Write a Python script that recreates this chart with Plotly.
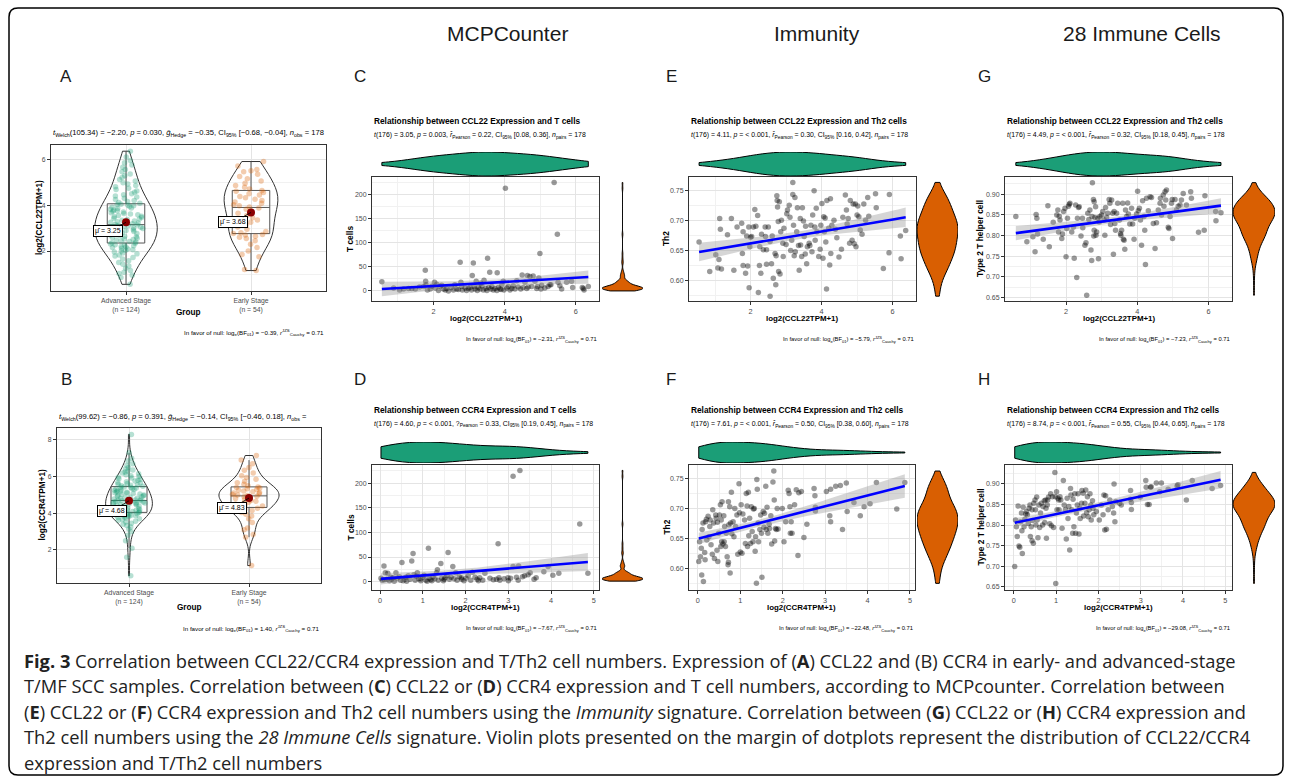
import numpy as np
import plotly.graph_objects as go

# ---------------- data ----------------
group_labels = ["Advanced Stage<br>(n = 124)", "Early Stage<br>(n = 54)"]

A_advanced = [0.55, 0.85, 0.95, 1.02, 1.08, 1.15, 1.25, 1.35, 1.42, 1.5, 1.58, 1.65, 1.72, 1.78, 1.83,
              1.88, 1.92, 1.96, 2.0, 2.03, 2.06, 2.09, 2.12, 2.15, 2.18, 2.2, 2.23, 2.26, 2.28, 2.31, 2.34,
              2.36, 2.39, 2.42, 2.45, 2.48, 2.5, 2.53, 2.56, 2.59, 2.62, 2.65, 2.68, 2.7, 2.73, 2.76,
              2.79, 2.82, 2.85, 2.88, 2.9, 2.93, 2.95, 2.98, 3.0, 3.02, 3.04, 3.06, 3.08, 3.1, 3.12, 3.14,
              3.16, 3.19, 3.22, 3.25, 3.28, 3.31, 3.34, 3.37, 3.4, 3.43, 3.46, 3.49, 3.52, 3.55, 3.58,
              3.61, 3.64, 3.67, 3.7, 3.73, 3.76, 3.79, 3.82, 3.85, 3.88, 3.91, 3.94, 3.97, 4.0, 4.02, 4.04,
              4.08, 4.12, 4.16, 4.2, 4.25, 4.3, 4.35, 4.4, 4.45, 4.5, 4.56, 4.62, 4.68, 4.74, 4.8,
              4.86, 4.92, 4.98, 5.05, 5.12, 5.2, 5.28, 5.36, 5.45, 5.55, 5.65, 5.75, 5.85, 5.95, 6.1, 6.35]
A_early = [1.15, 1.2, 1.75, 1.85, 2.0, 2.15, 2.3, 2.45, 2.55, 2.6, 2.65, 2.7, 2.72,
           2.76, 2.8, 2.85, 2.95, 3.05, 3.15, 3.25, 3.35, 3.45, 3.55, 3.65, 3.75, 3.82, 3.88,
           3.92, 3.97, 4.02, 4.08, 4.14, 4.2, 4.26, 4.32, 4.38, 4.44, 4.5, 4.55, 4.6, 4.64,
           4.7, 4.78, 4.86, 4.95, 5.05, 5.15, 5.25, 5.35, 5.45, 5.5, 5.55, 5.7, 5.9]
A_means = [3.25, 3.68]

B_advanced = [0.6, 1.6, 2.1, 2.5, 2.8, 3.0, 3.15, 3.25, 3.33, 3.4, 3.46, 3.52, 3.57, 3.62, 3.66,
              3.7, 3.74, 3.77, 3.8, 3.83, 3.86, 3.88, 3.9, 3.92, 3.94, 3.96, 3.98, 4.0, 4.01, 4.03, 4.04,
              4.06, 4.08, 4.1, 4.12, 4.14, 4.16, 4.18, 4.2, 4.23, 4.26, 4.28, 4.3, 4.33, 4.36, 4.38,
              4.4, 4.43, 4.46, 4.48, 4.5, 4.52, 4.54, 4.56, 4.58, 4.6, 4.62, 4.64, 4.65, 4.66, 4.68, 4.69,
              4.71, 4.73, 4.75, 4.78, 4.8, 4.82, 4.85, 4.88, 4.9, 4.92, 4.95, 4.98, 5.0, 5.02, 5.05,
              5.08, 5.1, 5.12, 5.15, 5.18, 5.2, 5.22, 5.25, 5.28, 5.3, 5.32, 5.35, 5.38, 5.4, 5.42, 5.44,
              5.47, 5.5, 5.53, 5.56, 5.59, 5.62, 5.65, 5.68, 5.72, 5.76, 5.8, 5.84, 5.88, 5.92, 5.96,
              6.0, 6.05, 6.1, 6.15, 6.2, 6.25, 6.3, 6.36, 6.42, 6.5, 6.6, 6.7, 6.85, 7.0, 7.3, 8.3]
B_early = [1.15, 2.7, 2.85, 3.1, 3.2, 3.5, 3.7, 3.85, 3.95, 4.05, 4.15, 4.22, 4.28,
           4.32, 4.36, 4.4, 4.45, 4.5, 4.55, 4.6, 4.65, 4.7, 4.75, 4.8, 4.85, 4.9, 4.93,
           4.97, 5.0, 5.03, 5.07, 5.1, 5.14, 5.18, 5.22, 5.26, 5.3, 5.34, 5.38, 5.41, 5.44,
           5.5, 5.58, 5.66, 5.75, 5.85, 5.95, 6.05, 6.2, 6.35, 6.5, 6.7, 6.9, 7.15]
B_means = [4.68, 4.83]

C_x = [0.55, 0.88, 1.05, 1.16, 1.30, 1.39, 1.49, 1.61, 1.72, 1.77,
       1.78, 1.79, 1.83, 1.91, 2.03, 2.05, 2.09, 2.14, 2.19, 2.23,
       2.28, 2.33, 2.37, 2.42, 2.50, 2.56, 2.65, 2.75, 2.77, 2.79,
       2.81, 2.89, 2.93, 2.98, 3.03, 3.07, 3.09, 3.12, 3.14, 3.17,
       3.20, 3.23, 3.26, 3.31, 3.36, 3.40, 3.42, 3.47, 3.50, 3.52,
       3.55, 3.58, 3.61, 3.64, 3.68, 3.73, 3.78, 3.79, 3.82, 3.87,
       3.92, 3.96, 3.98, 4.02, 4.06, 4.10, 4.15, 4.20, 4.24, 4.29,
       4.34, 4.38, 4.49, 4.52, 4.57, 4.62, 4.64, 4.66, 4.71, 4.76,
       4.80, 4.85, 4.90, 4.92, 4.96, 4.99, 5.02, 5.04, 5.13, 5.22,
       5.27, 5.30, 5.39, 5.48, 5.50, 5.55, 5.74, 5.88, 5.91, 6.21,
       6.23, 6.35, 2.60, 3.33, 3.90, 4.45, 5.60, 6.18, 1.95, 2.70]
C_y = [18, 5, 1, 3, 4, 4, 3, 7, 8, 42,
       19, 12, 1, 3, 17, 5, 13, 0, 8, 11,
       3, 1, 4, -1, 6, 1, 3, 59, 17, 8,
       1, 5, 0, 4, 6, 1, 31, 57, 8, 3,
       19, 0, 6, 3, 10, 1, 21, 4, 0, 67,
       6, 38, 3, 8, 1, 4, 0, 37, 6, 3,
       12, 19, 1, 213, 5, 8, 1, 4, 10, 3,
       20, 7, 32, 6, 17, 4, 31, 7, 29, 8,
       30, 19, 4, 8, 26, 77, 3, 11, 5, 8,
       12, 12, 225, 117, 17, 10, 17, 19, 6, 4,
       1, 8, 12, 15, 2, 3, 3, 6, 9, 2]

D_x = [0.02, 0.05, 0.09, 0.12, 0.16, 0.18, 0.22, 0.27, 0.33, 0.37,
       0.40, 0.45, 0.48, 0.51, 0.54, 0.58, 0.62, 0.66, 0.70, 0.74,
       0.77, 0.79, 0.82, 0.87, 0.90, 0.95, 1.00, 1.03, 1.07, 1.13,
       1.15, 1.21, 1.24, 1.28, 1.32, 1.34, 1.36, 1.42, 1.44, 1.48,
       1.52, 1.56, 1.59, 1.62, 1.66, 1.70, 1.73, 1.77, 1.80, 1.85,
       1.91, 1.96, 2.01, 2.06, 2.12, 2.16, 2.22, 2.27, 2.33, 2.40,
       2.45, 2.57, 2.72, 2.76, 2.78, 2.80, 2.99, 3.05, 3.11, 3.11,
       3.19, 3.23, 3.24, 3.27, 3.33, 3.38, 3.46, 3.51, 3.65, 3.83,
       3.93, 4.04, 4.18, 4.67, 4.86, 0.30, 0.60, 0.95, 1.10, 1.50,
       1.90, 2.30, 2.65, 2.90, 3.60, 3.00, 0.10, 0.25, 0.85, 1.18]
D_y = [7, 3, 32, 18, 5, 17, 2, 5, 1, 18,
       7, 10, 3, 39, 2, 5, 1, 12, 5, 42,
       57, 14, 3, 18, 6, 2, 9, 13, 3, 68,
       7, 2, 10, 6, 18, 24, 3, 37, 7, 2,
       8, 13, 59, 5, 9, 31, 6, 18, 3, 10,
       5, 2, 7, 12, 3, 19, 9, 5, 8, 3,
       17, 7, 5, 77, 8, 3, 8, 7, 31, 214,
       9, 3, 32, 226, 10, 12, 14, 18, 8, 20,
       31, 13, 17, 117, 17, 8, 9, 6, 1, 5,
       8, 2, 4, 6, 5, 2, 4, 9, 11, 4]

E_x = [0.55, 0.85, 1.02, 1.08, 1.13, 1.15, 1.18, 1.11, 1.35, 1.46,
       1.53, 1.62, 1.75, 1.79, 1.77, 1.79, 1.86, 1.89, 1.92, 1.95,
       1.96, 1.98, 2.03, 2.08, 2.12, 2.20, 2.22, 2.25, 2.26, 2.29,
       2.31, 2.36, 2.41, 2.42, 2.45, 2.45, 2.50, 2.55, 2.59, 2.61,
       2.64, 2.69, 2.71, 2.72, 2.74, 2.75, 2.76, 2.78, 2.79, 2.81,
       2.83, 2.85, 2.91, 2.92, 2.94, 3.02, 3.04, 3.09, 3.11, 3.16,
       3.19, 3.19, 3.21, 3.23, 3.25, 3.26, 3.30, 3.32, 3.35, 3.37,
       3.40, 3.41, 3.44, 3.46, 3.49, 3.51, 3.54, 3.58, 3.60, 3.65,
       3.67, 3.70, 3.73, 3.75, 3.79, 3.81, 3.82, 3.87, 3.92, 3.96,
       3.98, 4.01, 4.04, 4.06, 4.08, 4.10, 4.12, 4.14, 4.15, 4.20,
       4.23, 4.25, 4.26, 4.29, 4.39, 4.43, 4.49, 4.56, 4.67, 4.70,
       4.72, 4.75, 4.79, 4.81, 4.86, 4.89, 4.92, 4.95, 4.97, 5.02,
       5.00, 5.05, 5.09, 5.14, 5.19, 5.24, 5.30, 5.33, 5.52, 5.54,
       5.74, 5.90, 5.91, 6.22, 6.24, 6.37,
       2.15, 2.55, 2.87, 3.13, 3.55, 3.85, 4.35, 4.60, 2.00, 3.00]
E_y = [0.664, 0.615, 0.643, 0.621, 0.703, 0.685, 0.619, 0.635, 0.676, 0.703,
       0.617, 0.689, 0.695, 0.681, 0.645, 0.625, 0.612, 0.674, 0.624, 0.689,
       0.588, 0.656, 0.673, 0.689, 0.718, 0.708, 0.580, 0.625, 0.656, 0.612,
       0.677, 0.651, 0.689, 0.673, 0.651, 0.627, 0.689, 0.574, 0.628, 0.674,
       0.604, 0.645, 0.593, 0.641, 0.741, 0.733, 0.722, 0.698, 0.615, 0.731,
       0.611, 0.681, 0.662, 0.640, 0.687, 0.711, 0.717, 0.725, 0.705, 0.667,
       0.763, 0.743, 0.692, 0.641, 0.738, 0.648, 0.681, 0.721, 0.658, 0.617,
       0.703, 0.659, 0.640, 0.721, 0.699, 0.673, 0.644, 0.628, 0.656, 0.662,
       0.658, 0.692, 0.648, 0.709, 0.749, 0.689, 0.667, 0.681, 0.640, 0.652,
       0.692, 0.728, 0.637, 0.706, 0.681, 0.704, 0.664, 0.586, 0.733, 0.687,
       0.626, 0.736, 0.645, 0.692, 0.685, 0.671, 0.639, 0.652, 0.742, 0.717,
       0.694, 0.703, 0.662, 0.733, 0.667, 0.727, 0.661, 0.727, 0.656, 0.724,
       0.709, 0.706, 0.684, 0.677, 0.727, 0.700, 0.738, 0.707, 0.744, 0.721,
       0.620, 0.646, 0.743, 0.674, 0.636, 0.683,
       0.690, 0.665, 0.700, 0.650, 0.690, 0.720, 0.700, 0.705, 0.672, 0.660]

F_x = [0.02, 0.04, 0.06, 0.08, 0.09, 0.10, 0.12, 0.13, 0.16, 0.17,
       0.18, 0.20, 0.21, 0.24, 0.26, 0.28, 0.29, 0.31, 0.34, 0.35,
       0.37, 0.39, 0.42, 0.43, 0.45, 0.46, 0.47, 0.49, 0.51, 0.53,
       0.54, 0.55, 0.56, 0.57, 0.59, 0.61, 0.62, 0.63, 0.65, 0.67,
       0.69, 0.71, 0.72, 0.72, 0.73, 0.75, 0.76, 0.77, 0.79, 0.80,
       0.83, 0.85, 0.87, 0.89, 0.92, 0.94, 0.97, 0.98, 1.00, 1.02,
       1.04, 1.06, 1.10, 1.12, 1.14, 1.16, 1.17, 1.19, 1.20, 1.22,
       1.24, 1.26, 1.28, 1.30, 1.31, 1.33, 1.35, 1.36, 1.38, 1.39,
       1.40, 1.42, 1.43, 1.46, 1.48, 1.50, 1.51, 1.54, 1.56, 1.57,
       1.60, 1.61, 1.63, 1.65, 1.68, 1.69, 1.72, 1.74, 1.77, 1.79,
       1.80, 1.81, 1.83, 1.85, 1.87, 1.89, 1.99, 2.03, 2.07, 2.13,
       2.15, 2.17, 2.18, 2.20, 2.22, 2.28, 2.32, 2.36, 2.38, 2.44,
       2.50, 2.57, 2.74, 2.76, 2.77, 2.77, 3.03, 3.11, 3.13, 3.13,
       3.25, 3.36, 3.41, 3.50, 3.52, 3.68, 3.83, 3.92, 4.06, 4.21,
       4.69, 4.88]
F_y = [0.612, 0.645, 0.620, 0.634, 0.590, 0.665, 0.676, 0.579, 0.627, 0.615,
       0.678, 0.682, 0.648, 0.687, 0.653, 0.670, 0.681, 0.640, 0.624, 0.698,
       0.676, 0.617, 0.689, 0.684, 0.631, 0.677, 0.612, 0.659, 0.689, 0.706,
       0.637, 0.681, 0.645, 0.711, 0.641, 0.688, 0.645, 0.670, 0.637, 0.659,
       0.620, 0.607, 0.611, 0.711, 0.673, 0.703, 0.593, 0.676, 0.727, 0.658,
       0.678, 0.653, 0.700, 0.670, 0.689, 0.624, 0.741, 0.693, 0.628, 0.706,
       0.626, 0.691, 0.681, 0.642, 0.725, 0.704, 0.637, 0.727, 0.655, 0.684,
       0.642, 0.703, 0.662, 0.645, 0.699, 0.700, 0.629, 0.653, 0.576, 0.748,
       0.732, 0.676, 0.645, 0.665, 0.689, 0.659, 0.586, 0.695, 0.669, 0.692,
       0.737, 0.665, 0.702, 0.659, 0.674, 0.667, 0.688, 0.641, 0.744, 0.762,
       0.714, 0.646, 0.667, 0.665, 0.700, 0.666, 0.700, 0.645, 0.678, 0.730,
       0.725, 0.703, 0.659, 0.678, 0.659, 0.706, 0.731, 0.622, 0.726, 0.728,
       0.652, 0.674, 0.733, 0.721, 0.702, 0.696, 0.728, 0.688, 0.678, 0.732,
       0.737, 0.738, 0.665, 0.742, 0.695, 0.710, 0.688, 0.703, 0.708, 0.743,
       0.699, 0.743]

G_x = [0.59, 0.90, 1.07, 1.13, 1.16, 1.18, 1.20, 1.36, 1.49, 1.53,
       1.64, 1.74, 1.77, 1.79, 1.81, 1.83, 1.88, 1.90, 1.93, 1.97,
       2.00, 2.02, 2.04, 2.07, 2.09, 2.11, 2.16, 2.21, 2.23, 2.27,
       2.30, 2.32, 2.35, 2.37, 2.42, 2.46, 2.47, 2.53, 2.56, 2.58,
       2.61, 2.64, 2.67, 2.70, 2.72, 2.73, 2.74, 2.77, 2.78, 2.79,
       2.79, 2.81, 2.83, 2.84, 2.86, 2.89, 2.91, 2.93, 2.95, 3.00,
       3.03, 3.07, 3.09, 3.11, 3.14, 3.17, 3.21, 3.23, 3.25, 3.28,
       3.31, 3.33, 3.35, 3.37, 3.39, 3.42, 3.45, 3.50, 3.53, 3.54,
       3.56, 3.59, 3.61, 3.63, 3.65, 3.67, 3.70, 3.73, 3.75, 3.79,
       3.84, 3.87, 3.91, 3.93, 3.98, 4.01, 4.03, 4.06, 4.09, 4.12,
       4.15, 4.19, 4.21, 4.23, 4.26, 4.31, 4.36, 4.40, 4.45, 4.50,
       4.54, 4.59, 4.64, 4.65, 4.68, 4.73, 4.75, 4.78, 4.80, 4.82,
       4.87, 4.89, 4.92, 4.96, 4.98, 4.99, 5.06, 5.10, 5.15, 5.20,
       5.24, 5.29, 5.38, 5.50, 5.52, 5.72, 5.88, 5.90, 6.20, 6.21,
       6.35]
G_y = [0.846, 0.785, 0.797, 0.761, 0.851, 0.842, 0.804, 0.791, 0.872, 0.773,
       0.832, 0.850, 0.862, 0.809, 0.847, 0.838, 0.793, 0.804, 0.858, 0.866,
       0.749, 0.817, 0.842, 0.871, 0.876, 0.878, 0.809, 0.821, 0.745, 0.874,
       0.699, 0.842, 0.868, 0.870, 0.799, 0.842, 0.819, 0.777, 0.783, 0.656,
       0.854, 0.839, 0.862, 0.765, 0.740, 0.846, 0.928, 0.887, 0.799, 0.813,
       0.882, 0.844, 0.870, 0.801, 0.809, 0.842, 0.744, 0.833, 0.846, 0.850,
       0.858, 0.838, 0.801, 0.868, 0.844, 0.854, 0.887, 0.878, 0.827, 0.886,
       0.854, 0.755, 0.858, 0.829, 0.813, 0.854, 0.878, 0.838, 0.805, 0.801,
       0.813, 0.878, 0.791, 0.789, 0.767, 0.862, 0.846, 0.879, 0.852, 0.828,
       0.866, 0.828, 0.791, 0.842, 0.852, 0.907, 0.860, 0.866, 0.838, 0.777,
       0.884, 0.846, 0.813, 0.730, 0.890, 0.860, 0.894, 0.892, 0.829, 0.769,
       0.831, 0.862, 0.878, 0.890, 0.850, 0.898, 0.871, 0.906, 0.886, 0.910,
       0.820, 0.817, 0.846, 0.878, 0.887, 0.793, 0.887, 0.862, 0.871, 0.874,
       0.886, 0.902, 0.874, 0.906, 0.890, 0.808, 0.813, 0.896, 0.858, 0.836,
       0.855]

H_x = [0.02, 0.04, 0.06, 0.08, 0.10, 0.12, 0.14, 0.16, 0.18, 0.19,
       0.20, 0.22, 0.24, 0.26, 0.28, 0.30, 0.32, 0.34, 0.36, 0.38,
       0.39, 0.41, 0.43, 0.43, 0.44, 0.46, 0.47, 0.50, 0.51, 0.52,
       0.54, 0.55, 0.57, 0.59, 0.61, 0.63, 0.65, 0.68, 0.69, 0.72,
       0.73, 0.75, 0.76, 0.77, 0.79, 0.80, 0.82, 0.85, 0.87, 0.89,
       0.91, 0.94, 0.97, 0.98, 0.99, 1.01, 1.02, 1.04, 1.06, 1.07,
       1.09, 1.11, 1.14, 1.17, 1.19, 1.22, 1.24, 1.26, 1.28, 1.30,
       1.32, 1.34, 1.35, 1.37, 1.39, 1.40, 1.42, 1.44, 1.46, 1.48,
       1.50, 1.52, 1.54, 1.56, 1.57, 1.60, 1.61, 1.64, 1.65, 1.68,
       1.70, 1.72, 1.74, 1.76, 1.78, 1.80, 1.82, 1.83, 1.86, 1.87,
       1.89, 1.95, 2.02, 2.07, 2.11, 2.13, 2.15, 2.17, 2.19, 2.23,
       2.27, 2.33, 2.36, 2.37, 2.39, 2.41, 2.50, 2.54, 2.76, 2.76,
       2.78, 2.78, 2.99, 3.12, 3.13, 3.16, 3.20, 3.23, 3.25, 3.37,
       3.45, 3.49, 3.65, 3.86, 3.88, 4.08, 4.22, 4.69, 4.89]
H_y = [0.699, 0.812, 0.796, 0.772, 0.846, 0.749, 0.746, 0.808, 0.829, 0.786,
       0.731, 0.843, 0.796, 0.814, 0.827, 0.833, 0.825, 0.804, 0.841, 0.849,
       0.772, 0.796, 0.837, 0.762, 0.811, 0.756, 0.853, 0.861, 0.837, 0.800,
       0.868, 0.812, 0.769, 0.849, 0.794, 0.829, 0.853, 0.800, 0.845, 0.859,
       0.806, 0.861, 0.841, 0.768, 0.849, 0.861, 0.868, 0.803, 0.876, 0.798,
       0.869, 0.794, 0.928, 0.869, 0.658, 0.881, 0.837, 0.865, 0.861, 0.837,
       0.869, 0.861, 0.792, 0.908, 0.849, 0.838, 0.766, 0.865, 0.816, 0.845,
       0.739, 0.889, 0.873, 0.837, 0.780, 0.863, 0.796, 0.876, 0.780, 0.829,
       0.849, 0.876, 0.778, 0.841, 0.816, 0.853, 0.884, 0.877, 0.822, 0.853,
       0.885, 0.830, 0.869, 0.820, 0.837, 0.876, 0.849, 0.812, 0.859, 0.841,
       0.825, 0.833, 0.812, 0.849, 0.825, 0.873, 0.788, 0.871, 0.790, 0.837,
       0.861, 0.845, 0.829, 0.900, 0.808, 0.857, 0.853, 0.849, 0.884, 0.863,
       0.855, 0.838, 0.868, 0.908, 0.892, 0.850, 0.850, 0.892, 0.893, 0.902,
       0.881, 0.902, 0.887, 0.895, 0.898, 0.861, 0.908, 0.889, 0.896]

# ---------------- styling / layout helpers ----------------
W, H = 1292, 782
FONT = "Liberation Sans, Arial, sans-serif"
CAPFONT = "Open Sans, Noto Sans, sans-serif"
GREEN = "#1B9E77"
ORANGE = "#D95F02"
GRID = "#E4E4E4"
MINOR = "#F1F1F1"
DARK = "#333333"
TICKC = "#4D4D4D"


def fx(p):
    return p / W


def fy(p):
    return 1 - p / H


def ref(i, k):
    return k if i == 1 else f"{k}{i}"


def axkey(i, k):
    return f"{k}axis" if i == 1 else f"{k}axis{i}"


fig = go.Figure()
layout = dict(width=W, height=H, margin=dict(l=0, r=0, t=0, b=0),
              paper_bgcolor="white", plot_bgcolor="white", showlegend=False,
              font=dict(family=FONT, size=7, color=TICKC))
annotations = []
shapes = []


def text(x, y, s, size, color="black", xanchor="left", yanchor="middle", angle=0, family=FONT):
    annotations.append(dict(x=fx(x), y=fy(y), xref="paper", yref="paper", text=s, showarrow=False,
                            font=dict(size=size, color=color, family=family),
                            xanchor=xanchor, yanchor=yanchor, textangle=angle))


def panel_axis(dom, rng, anchor, horizontal, dtick=None, minor=None, fmt=None, tsize=7.3,
               tickvals=None, ticktext=None):
    a = dict(domain=[fx(dom[0]), fx(dom[1])] if horizontal else [fy(dom[1]), fy(dom[0])],
             range=rng, anchor=anchor, showline=True, linecolor=DARK, linewidth=1, mirror=True,
             ticks="outside", ticklen=3, tickcolor=DARK, tickwidth=1, showgrid=True,
             gridcolor=GRID, gridwidth=1, zeroline=False,
             tickfont=dict(family=FONT, size=tsize, color=TICKC))
    if tickvals is not None:
        a.update(tickmode="array", tickvals=tickvals, ticktext=ticktext)
    else:
        a.update(tick0=0, dtick=dtick)
    if minor is not None:
        a["minor"] = dict(tick0=0, dtick=minor, showgrid=True, gridcolor=MINOR, gridwidth=0.6, ticks="")
    if fmt:
        a["tickformat"] = fmt
    return a


def hidden_axis(dom, rng, anchor, horizontal):
    return dict(domain=[fx(dom[0]), fx(dom[1])] if horizontal else [fy(dom[1]), fy(dom[0])],
                range=rng, anchor=anchor, visible=False, showgrid=False, zeroline=False, fixedrange=True)


# ---------------- group comparison panels (A, B) ----------------
group_panels = [
    dict(i=1, adv=A_advanced, early=A_early, means=A_means, xdom=(51, 326), ydom=(145, 291),
         yr=[0.26, 6.62], widths=(0.5, 0.43), ylab="log2(CCL22TPM+1)", ylab_x=39,
         sub=("<i>t</i><sub>Welch</sub>(105.34) = −2.20, <i>p</i> = 0.030, <i>ĝ</i><sub>Hedge</sub> = −0.35, "
              "CI<sub>95%</sub> [−0.68, −0.04], <i>n</i><sub>obs</sub> = 178"), sub_y=133,
         group_y=313, bf="In favor of null: log<sub>e</sub>(BF<sub>01</sub>) = −0.39, "
                         "<i>r</i><sup>JZS</sup><sub>Cauchy</sub> = 0.71", bf_y=333,
         lab_off=[(-18, 9), (-18, 10)]),
    dict(i=2, adv=B_advanced, early=B_early, means=B_means, xdom=(57, 321), ydom=(428, 583),
         yr=[0.2, 8.65], widths=(0.39, 0.5), ylab="log2(CCR4TPM+1)", ylab_x=42,
         sub=("<i>t</i><sub>Welch</sub>(99.62) = −0.86, <i>p</i> = 0.391, <i>ĝ</i><sub>Hedge</sub> = −0.14, "
              "CI<sub>95%</sub> [−0.46, 0.18], <i>n</i><sub>obs</sub> ="), sub_y=417,
         group_y=607, bf="In favor of null: log<sub>e</sub>(BF<sub>01</sub>) = 1.40, "
                         "<i>r</i><sup>JZS</sup><sub>Cauchy</sub> = 0.71", bf_y=628,
         lab_off=[(-17, 10), (-17, 10)]),
]

for p in group_panels:
    i = p["i"]
    xa, ya = ref(i, "x"), ref(i, "y")
    layout[axkey(i, "x")] = panel_axis(p["xdom"], [0.4, 2.6], ya, True, tsize=6.8,
                                       tickvals=[1, 2], ticktext=group_labels)
    layout[axkey(i, "y")] = panel_axis(p["ydom"], p["yr"], xa, False, dtick=2, minor=1, tsize=6.8)
    for k, (vals, col) in enumerate([(p["adv"], "rgba(27,158,119,0.32)"), (p["early"], "rgba(217,95,2,0.32)")]):
        pos = k + 1
        fig.add_trace(go.Box(x=[pos] * len(vals), y=vals, xaxis=xa, yaxis=ya, width=0.3,
                             boxpoints="all", jitter=1, pointpos=0, whiskerwidth=0,
                             fillcolor="rgba(255,255,255,0)", line=dict(color="#555555", width=1),
                             marker=dict(color=col, size=5.5, line=dict(width=0)), hoverinfo="skip"))
        fig.add_trace(go.Violin(x=[pos] * len(vals), y=vals, xaxis=xa, yaxis=ya, width=p["widths"][k],
                                spanmode="hard", fillcolor="rgba(255,255,255,0)",
                                line=dict(color=DARK, width=1), points=False,
                                box_visible=False, meanline_visible=False, hoverinfo="skip"))
    fig.add_trace(go.Scatter(x=[1, 2], y=p["means"], xaxis=xa, yaxis=ya, mode="markers",
                             marker=dict(color="#8B0000", size=8), hoverinfo="skip"))
    for k, m in enumerate(p["means"]):
        annotations.append(dict(x=k + 1, y=m, xref=xa, yref=ya, text=f"μ̂ = {m:.2f}",
                                showarrow=True, arrowhead=0, arrowwidth=0.8, arrowcolor="black",
                                ax=p["lab_off"][k][0], ay=p["lab_off"][k][1],
                                font=dict(family=FONT, size=7, color="black"),
                                bgcolor="white", bordercolor="black", borderwidth=1, borderpad=1))
    text(p["xdom"][0], p["sub_y"], p["sub"], 7.6)
    text(p["ylab_x"], (p["ydom"][0] + p["ydom"][1]) / 2, f"<b>{p['ylab']}</b>", 8.2,
         xanchor="center", angle=-90)
    text((p["xdom"][0] + p["xdom"][1]) / 2, p["group_y"], "<b>Group</b>", 8.2, xanchor="center")
    text(p["xdom"][1], p["bf_y"], p["bf"], 6.2, xanchor="right")

# ---------------- scatter panels with marginal violins (C-H) ----------------
top_row = dict(ydom=(177, 301), top=(152, 176), title_y=121, sub_y=135.7, xlab_y=318, bf_y=339)
bot_row = dict(ydom=(465, 590), top=(442, 463), title_y=410, sub_y=424.3, xlab_y=607, bf_y=628)

scatter_panels = [
    dict(i=3, X=C_x, Y=C_y, row=top_row, xdom=(372, 599), right=(602, 643), xr=[0.273, 6.65],
         yr=[-22, 236.5], xd=2, xm=1, yd=50, ym=25, fmt=None, ylab="T cells", ylab_x=350,
         title="Relationship between CCL22 Expression and T cells",
         sub=("<i>t</i>(176) = 3.05, <i>p</i> = 0.003, <i>r̂</i><sub>Pearson</sub> = 0.22, "
              "CI<sub>95%</sub> [0.08, 0.36], <i>n</i><sub>pairs</sub> = 178"),
         bf="−2.31", xlab="log2(CCL22TPM+1)"),
    dict(i=6, X=D_x, Y=D_y, row=bot_row, xdom=(372, 599), right=(602, 643), xr=[-0.19, 5.12],
         yr=[-17, 237], xd=1, xm=0.5, yd=50, ym=25, fmt=None, ylab="T cells", ylab_x=350,
         title="Relationship between CCR4 Expression and T cells",
         sub=("<i>t</i>(176) = 4.60, <i>p</i> = < 0.001, ?<sub>Pearson</sub> = 0.33, "
              "CI<sub>95%</sub> [0.19, 0.45], <i>n</i><sub>pairs</sub> = 178"),
         bf="−7.67", xlab="log2(CCR4TPM+1)"),
    dict(i=9, X=E_x, Y=E_y, row=top_row, xdom=(689, 916), right=(917, 958), xr=[0.266, 6.66],
         yr=[0.566, 0.772], xd=2, xm=1, yd=0.05, ym=0.025, fmt=".2f", ylab="Th2", ylab_x=666,
         title="Relationship between CCL22 Expression and Th2 cells",
         sub=("<i>t</i>(176) = 4.11, <i>p</i> = < 0.001, <i>r̂</i><sub>Pearson</sub> = 0.30, "
              "CI<sub>95%</sub> [0.16, 0.42], <i>n</i><sub>pairs</sub> = 178"),
         bf="−5.79", xlab="log2(CCL22TPM+1)"),
    dict(i=12, X=F_x, Y=F_y, row=bot_row, xdom=(689, 915), right=(917, 958), xr=[-0.21, 5.12],
         yr=[0.565, 0.772], xd=1, xm=0.5, yd=0.05, ym=0.025, fmt=".2f", ylab="Th2", ylab_x=666,
         title="Relationship between CCR4 Expression and Th2 cells",
         sub=("<i>t</i>(176) = 7.61, <i>p</i> = < 0.001, <i>r̂</i><sub>Pearson</sub> = 0.50, "
              "CI<sub>95%</sub> [0.38, 0.60], <i>n</i><sub>pairs</sub> = 178"),
         bf="−22.48", xlab="log2(CCR4TPM+1)"),
    dict(i=15, X=G_x, Y=G_y, row=top_row, xdom=(1005, 1232), right=(1233, 1275), xr=[0.286, 6.66],
         yr=[0.642, 0.9416], xd=2, xm=1, yd=0.05, ym=0.025, fmt=".2f", ylab="Type 2 T helper cell",
         ylab_x=980, title="Relationship between CCL22 Expression and Th2 cells",
         sub=("<i>t</i>(176) = 4.49, <i>p</i> = < 0.001, <i>r̂</i><sub>Pearson</sub> = 0.32, "
              "CI<sub>95%</sub> [0.18, 0.45], <i>n</i><sub>pairs</sub> = 178"),
         bf="−7.23", xlab="log2(CCL22TPM+1)"),
    dict(i=18, X=H_x, Y=H_y, row=bot_row, xdom=(1005, 1232), right=(1233, 1275), xr=[-0.21, 5.16],
         yr=[0.642, 0.946], xd=1, xm=0.5, yd=0.05, ym=0.025, fmt=".2f", ylab="Type 2 T helper cell",
         ylab_x=980, title="Relationship between CCR4 Expression and Th2 cells",
         sub=("<i>t</i>(176) = 8.74, <i>p</i> = < 0.001, <i>r̂</i><sub>Pearson</sub> = 0.55, "
              "CI<sub>95%</sub> [0.44, 0.65], <i>n</i><sub>pairs</sub> = 178"),
         bf="−29.08", xlab="log2(CCR4TPM+1)"),
]

T95 = 1.9735  # t quantile, df = 176

for p in scatter_panels:
    i, r = p["i"], p["row"]
    X, Y = np.array(p["X"], float), np.array(p["Y"], float)
    # main axes
    layout[axkey(i, "x")] = panel_axis(p["xdom"], p["xr"], ref(i, "y"), True, dtick=p["xd"], minor=p["xm"])
    layout[axkey(i, "y")] = panel_axis(r["ydom"], p["yr"], ref(i, "x"), False, dtick=p["yd"],
                                       minor=p["ym"], fmt=p["fmt"], tsize=7.0)
    # top marginal axes
    layout[axkey(i + 1, "x")] = hidden_axis(p["xdom"], p["xr"], ref(i + 1, "y"), True)
    layout[axkey(i + 1, "y")] = hidden_axis(r["top"], [-0.5, 0.5], ref(i + 1, "x"), False)
    # right marginal axes
    layout[axkey(i + 2, "x")] = hidden_axis(p["right"], [-0.5, 0.5], ref(i + 2, "y"), True)
    layout[axkey(i + 2, "y")] = hidden_axis(r["ydom"], p["yr"], ref(i + 2, "x"), False)

    xa, ya = ref(i, "x"), ref(i, "y")
    fig.add_trace(go.Scatter(x=X, y=Y, xaxis=xa, yaxis=ya, mode="markers",
                             marker=dict(color="rgba(0,0,0,0.4)", size=5.5, line=dict(width=0)),
                             hoverinfo="skip"))
    # linear fit with 95% confidence band
    b, a = np.polyfit(X, Y, 1)
    n = len(X)
    xs = np.linspace(X.min(), X.max(), 120)
    yhat = a + b * xs
    s = np.sqrt(np.sum((Y - (a + b * X)) ** 2) / (n - 2))
    se = s * np.sqrt(1 / n + (xs - X.mean()) ** 2 / np.sum((X - X.mean()) ** 2))
    fig.add_trace(go.Scatter(x=np.concatenate([xs, xs[::-1]]),
                             y=np.concatenate([yhat + T95 * se, (yhat - T95 * se)[::-1]]),
                             xaxis=xa, yaxis=ya, mode="lines", fill="toself",
                             fillcolor="rgba(153,153,153,0.40)", line=dict(width=0), hoverinfo="skip"))
    fig.add_trace(go.Scatter(x=xs, y=yhat, xaxis=xa, yaxis=ya, mode="lines",
                             line=dict(color="#0000FF", width=2.6), hoverinfo="skip"))
    # marginal violins
    fig.add_trace(go.Violin(x=X, y0=0, orientation="h", xaxis=ref(i + 1, "x"), yaxis=ref(i + 1, "y"),
                            width=1, spanmode="hard", fillcolor=GREEN, line=dict(color="black", width=1),
                            points=False, box_visible=False, meanline_visible=False, hoverinfo="skip"))
    fig.add_trace(go.Violin(y=Y, x0=0, orientation="v", xaxis=ref(i + 2, "x"), yaxis=ref(i + 2, "y"),
                            width=1, spanmode="hard", fillcolor=ORANGE, line=dict(color="black", width=1),
                            points=False, box_visible=False, meanline_visible=False, hoverinfo="skip"))
    # texts
    text(p["xdom"][0], r["title_y"], f"<b>{p['title']}</b>", 8.3)
    text(p["xdom"][0], r["sub_y"], p["sub"], 6.9)
    text((p["xdom"][0] + p["xdom"][1]) / 2, r["xlab_y"], f"<b>{p['xlab']}</b>", 7.9, xanchor="center")
    text(p["ylab_x"], (r["ydom"][0] + r["ydom"][1]) / 2, f"<b>{p['ylab']}</b>", 8.4,
         xanchor="center", angle=-90)
    text(p["xdom"][1], r["bf_y"],
         f"In favor of null: log<sub>e</sub>(BF<sub>01</sub>) = {p['bf']}, "
         f"<i>r</i><sup>JZS</sup><sub>Cauchy</sub> = 0.71", 5.8, xanchor="right")

# ---------------- headers, panel letters, caption ----------------
for s, x in [("MCPCounter", 507), ("Immunity", 817), ("28 Immune Cells", 1142)]:
    text(x, 33, s, 21, color="#1a1a1a", xanchor="center")
for s, x, y in [("A", 66, 77), ("C", 360, 77), ("E", 671, 77), ("G", 984, 77),
                ("B", 66, 380), ("D", 360, 380), ("F", 671, 380), ("H", 984, 380)]:
    text(x, y, s, 17, color="#1a1a1a", xanchor="center")

caption_lines = [
    "<b>Fig. 3</b> Correlation between CCL22/CCR4 expression and T/Th2 cell numbers. Expression of (<b>A</b>) "
    "CCL22 and (B) CCR4 in early- and advanced-stage",
    "T/MF SCC samples. Correlation between (<b>C</b>) CCL22 or (<b>D</b>) CCR4 expression and T cell numbers, "
    "according to MCPcounter. Correlation between",
    "(<b>E</b>) CCL22 or (<b>F</b>) CCR4 expression and Th2 cell numbers using the <i>Immunity</i> signature. "
    "Correlation between (<b>G</b>) CCL22 or (<b>H</b>) CCR4 expression and",
    "Th2 cell numbers using the <i>28 Immune Cells</i> signature. Violin plots presented on the margin of "
    "dotplots represent the distribution of CCL22/CCR4",
    "expression and T/Th2 cell numbers",
]
for k, line in enumerate(caption_lines):
    text(22, 660 + k * 25.5, line, 18.3, color="#222222", family=CAPFONT)

# outer rounded frame
L, T, R, B, rad = 9, 8, 1283, 775, 9
frame = (f"M {fx(L + rad)},{fy(T)} L {fx(R - rad)},{fy(T)} Q {fx(R)},{fy(T)} {fx(R)},{fy(T + rad)} "
         f"L {fx(R)},{fy(B - rad)} Q {fx(R)},{fy(B)} {fx(R - rad)},{fy(B)} "
         f"L {fx(L + rad)},{fy(B)} Q {fx(L)},{fy(B)} {fx(L)},{fy(B - rad)} "
         f"L {fx(L)},{fy(T + rad)} Q {fx(L)},{fy(T)} {fx(L + rad)},{fy(T)} Z")
shapes.append(dict(type="path", path=frame, xref="paper", yref="paper",
                   line=dict(color="black", width=1.5), fillcolor="rgba(0,0,0,0)"))

layout["annotations"] = annotations
layout["shapes"] = shapes
layout["violinmode"] = "overlay"
layout["boxmode"] = "overlay"
fig.update_layout(**layout)

fig.write_html("out.html", config={"displayModeBar": False},
               post_script="document.body.style.margin='0';document.body.style.overflow='hidden';")
